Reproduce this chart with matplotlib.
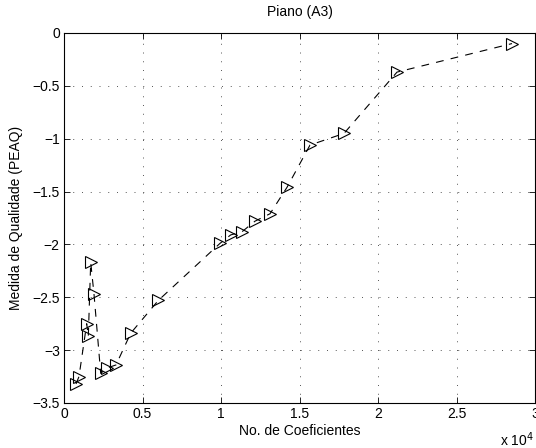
import matplotlib
matplotlib.use('Agg')
import matplotlib.pyplot as plt
from matplotlib.ticker import FuncFormatter

plt.rcParams['font.family'] = ['Liberation Sans', 'DejaVu Sans']
plt.rcParams['font.size'] = 10

# No. de coeficientes vs medida PEAQ
coefs = [764, 955, 1446, 1548, 1701, 1911, 2338, 2720, 3312, 4248, 6006,
         9936, 10618, 11338, 12166, 13121, 14204, 15669, 17834, 21210, 28535]
peaq = [-3.32, -3.25, -2.75, -2.87, -2.17, -2.47, -3.22, -3.17, -3.14, -2.84, -2.53,
        -1.99, -1.91, -1.88, -1.78, -1.71, -1.46, -1.06, -0.95, -0.37, -0.10]

xticks = [0, 5000, 10000, 15000, 20000, 25000, 30000]
yticks = [-3.5, -3, -2.5, -2, -1.5, -1, -0.5, 0]

fig = plt.figure(figsize=(5.36, 4.48), dpi=100)
ax = fig.add_axes([64 / 536, 1 - 403 / 448, 471 / 536, 370 / 448])

ax.plot(coefs, peaq, color='black', linestyle=(0, (7, 6.5)), linewidth=0.8,
        marker='>', markersize=8.5, markerfacecolor='none', markeredgecolor='black',
        markeredgewidth=0.8)

ax.set_xlim(0, 30000)
ax.set_ylim(-3.5, 0)
ax.set_xticks(xticks)
ax.set_yticks(yticks)
ax.xaxis.set_major_formatter(FuncFormatter(lambda v, p: '%g' % (v / 1e4)))
ax.yaxis.set_major_formatter(FuncFormatter(lambda v, p: ('%g' % v).replace('-', '\u2212')))
ax.tick_params(direction='in', top=True, right=True, length=4, width=0.6, pad=3)
ax.grid(True, linestyle=(0, (1, 8)), color='#555555', linewidth=0.7)
for s in ax.spines.values():
    s.set_linewidth(0.8)

ax.set_title('Piano (A3)', fontsize=10, pad=12)
ax.set_xlabel('No. de Coeficientes', labelpad=2)
ax.set_ylabel('Medida de Qualidade (PEAQ)', labelpad=7)
fig.text(500 / 536, 1 - 440 / 448, 'x 10$^4$', fontsize=10, va='center')

fig.savefig('out.png', dpi=100)
